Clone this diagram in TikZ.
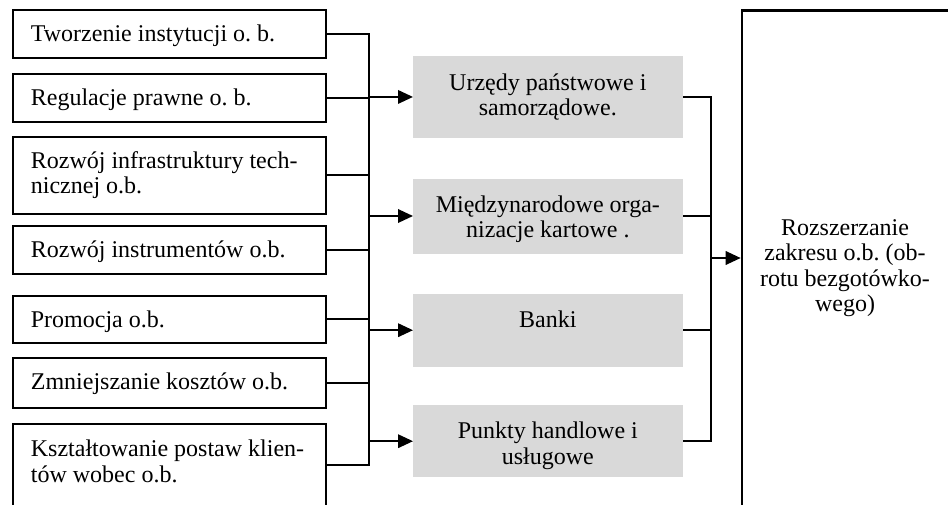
\documentclass[tikz,border=0pt]{standalone}
\usepackage{fontspec}
\setmainfont{Liberation Serif}
\usetikzlibrary{arrows.meta}
\definecolor{boxgray}{RGB}{217,217,217}
\begin{document}
\begin{tikzpicture}[x=1pt,y=-1pt,
  lbox/.style={draw, line width=1.9pt, rectangle, inner sep=0pt, anchor=north west, minimum width=313pt},
  gbox/.style={fill=boxgray, rectangle, inner sep=0pt, anchor=north west, minimum width=269.7pt},
  rbox/.style={draw, line width=2.3pt, rectangle, inner sep=0pt, anchor=north west},
  ltxt/.style={anchor=north west, inner sep=0pt, align=left, font=\fontsize{24}{25.5}\selectfont\frenchspacing, yshift=17.85pt},
  ctxt/.style={anchor=north, inner sep=0pt, align=center, font=\fontsize{24}{25.5}\selectfont\frenchspacing, yshift=17.85pt},
  conn/.style={line width=1.9pt},
  arr/.style={conn, -{Triangle[length=15pt,width=13.5pt]}}]
\useasboundingbox (0,0) rectangle (948,504);
\clip (0,0) rectangle (948,504);
\fill[white] (0,0) rectangle (948,504);

% left boxes
\node[lbox, minimum height=47.4pt] (l1) at (12,9.3) {};
\node[lbox, minimum height=48pt]   (l2) at (12,73) {};
\node[lbox, minimum height=76.7pt] (l3) at (12,136) {};
\node[lbox, minimum height=48.3pt] (l4) at (12,225) {};
\node[lbox, minimum height=46.7pt] (l5) at (12,295) {};
\node[lbox, minimum height=49.2pt] (l6) at (12,357.4) {};
\node[lbox, minimum height=82pt]   (l7) at (12,423.3) {};

\node[ltxt] (t1) at (30.7,41.7) {\strut Tworzenie instytucji o. b.};
\node[ltxt] (t2) at (30.7,105) {\strut Regulacje prawne o. b.};
\node[ltxt] (t3) at (30.7,168) {\strut Rozwój infrastruktury tech-\\nicznej o.b.};
\node[ltxt] (t4) at (30.7,257) {\strut Rozwój instrumentów o.b.};
\node[ltxt] (t5) at (30.7,327) {\strut Promocja o.b.};
\node[ltxt] (t6) at (30.7,389.3) {\strut Zmniejszanie kosztów o.b.};
\node[ltxt] (t7) at (30.7,456.5) {\strut Kształtowanie postaw klien-\\tów wobec o.b.};

% grey boxes
\node[gbox, minimum height=81.5pt] (g1) at (413,56) {};
\node[gbox, minimum height=75pt]   (g2) at (413,178.3) {};
\node[gbox, minimum height=73.4pt] (g3) at (413,293.3) {};
\node[gbox, minimum height=72pt]   (g4) at (413,405) {};

\node[ctxt] (u1) at (547.85,90) {\strut Urzędy państwowe i\\samorządowe.};
\node[ctxt] (u2) at (547.85,212) {\strut Międzynarodowe orga-\\nizacje kartowe .};
\node[ctxt] (u3) at (547.85,327.3) {\strut Banki};
\node[ctxt] (u4) at (547.85,438.3) {\strut Punkty handlowe i\\usługowe};

% right box
\node[rbox, minimum width=209pt, minimum height=520pt] (r) at (740.7,9.3) {};
\node[ctxt] (rt) at (845,235) {\strut Rozszerzanie\\zakresu o.b. (ob-\\rotu bezgotówko-\\wego)};

% left bus
\coordinate (busA) at (369.3,0);
\draw[conn] (l1.east) -| (busA |- l7.east) -- (l7.east);
\foreach \k in {2,...,6} { \draw[conn] (l\k.east) -- (l\k.east -| busA); }
\foreach \k in {1,...,4} { \draw[arr] (busA |- g\k.west) -- (g\k.west); }

% right bus
\coordinate (busB) at (711,0);
\draw[conn] (g1.east) -| (busB |- g4.east) -- (g4.east);
\draw[conn] (g2.east) -- (g2.east -| busB);
\draw[conn] (g3.east) -- (g3.east -| busB);
\coordinate (rin) at (711,258);
\draw[arr] (rin) -- (rin -| r.west);
\end{tikzpicture}
\end{document}
